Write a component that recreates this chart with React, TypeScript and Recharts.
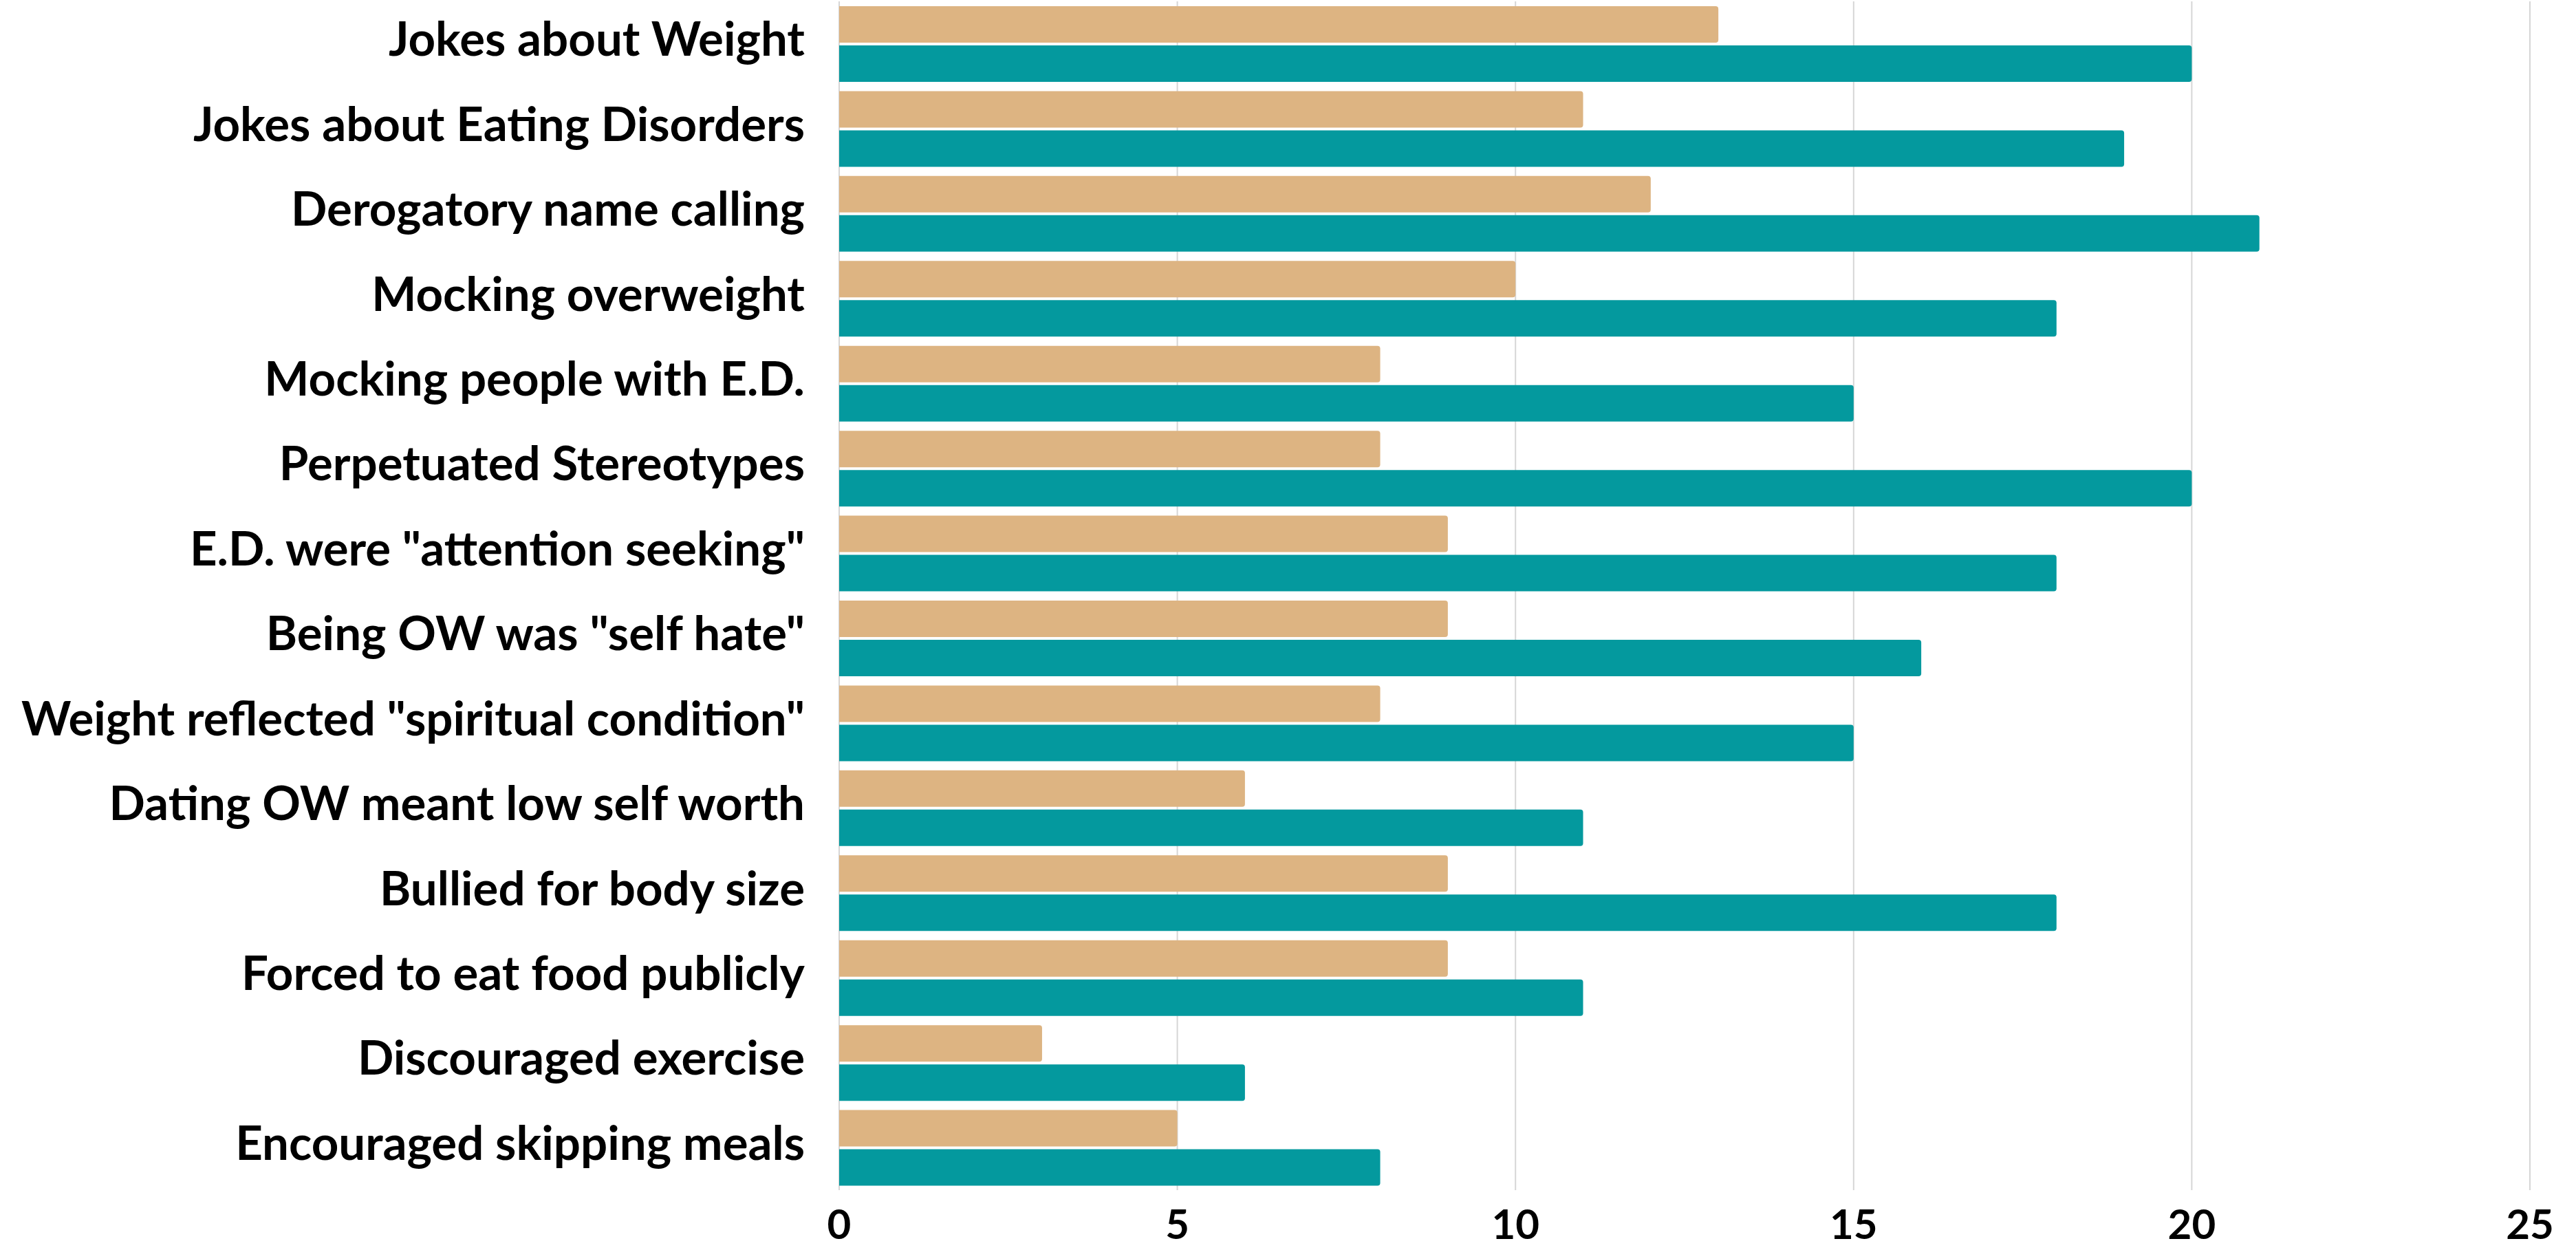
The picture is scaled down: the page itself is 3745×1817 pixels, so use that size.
import React from "react";
import { BarChart, Bar, XAxis, YAxis, CartesianGrid } from "recharts";

const categories = [
  "Jokes about Weight",
  "Jokes about Eating Disorders",
  "Derogatory name calling",
  "Mocking overweight",
  "Mocking people with E.D.",
  "Perpetuated Stereotypes",
  'E.D. were "attention seeking"',
  'Being OW was "self hate"',
  'Weight reflected "spiritual condition"',
  "Dating OW meant low self worth",
  "Bullied for body size",
  "Forced to eat food publicly",
  "Discouraged exercise",
  "Encouraged skipping meals",
];

const seriesA = [13, 11, 12, 10, 8, 8, 9, 9, 8, 6, 9, 9, 3, 5];
const seriesB = [20, 19, 21, 18, 15, 20, 18, 16, 15, 11, 18, 11, 6, 8];
const xTicks = [0, 5, 10, 15, 20, 25];

const data = categories.map((name, i) => ({ name, a: seriesA[i], b: seriesB[i] }));

const FONT = "Lato, 'DejaVu Sans', sans-serif";

const YTick = (props: any) => {
  const { x, y, payload } = props;
  return (
    <text
      x={x}
      y={y}
      dy={-9}
      textAnchor="end"
      dominantBaseline="central"
      fill="#000"
      fontFamily={FONT}
      fontWeight={700}
      fontSize={69}
    >
      {payload.value}
    </text>
  );
};

export default function App() {
  return (
    <div style={{ position: "absolute", left: 0, top: 0, background: "#fff" }}>
      <BarChart
        width={3745}
        height={1817}
        data={data}
        layout="vertical"
        margin={{ top: 2, right: 67, bottom: 0, left: 0 }}
        barCategoryGap={7}
        barGap={4}
      >
        <CartesianGrid horizontal={false} stroke="#d6d6d6" strokeWidth={2} />
        <XAxis
          type="number"
          domain={[0, 25]}
          ticks={xTicks}
          axisLine={false}
          tickLine={false}
          tickSize={0}
          tickMargin={28}
          height={87}
          tick={{ fill: "#000", fontFamily: FONT, fontWeight: 700, fontSize: 60 }}
        />
        <YAxis
          type="category"
          dataKey="name"
          width={1220}
          axisLine={false}
          tickLine={false}
          tickSize={0}
          tickMargin={50}
          interval={0}
          tick={<YTick />}
        />
        <Bar dataKey="a" fill="#DDB482" radius={[0, 4, 4, 0]} isAnimationActive={false} />
        <Bar dataKey="b" fill="#04999E" radius={[0, 4, 4, 0]} isAnimationActive={false} />
      </BarChart>
    </div>
  );
}
